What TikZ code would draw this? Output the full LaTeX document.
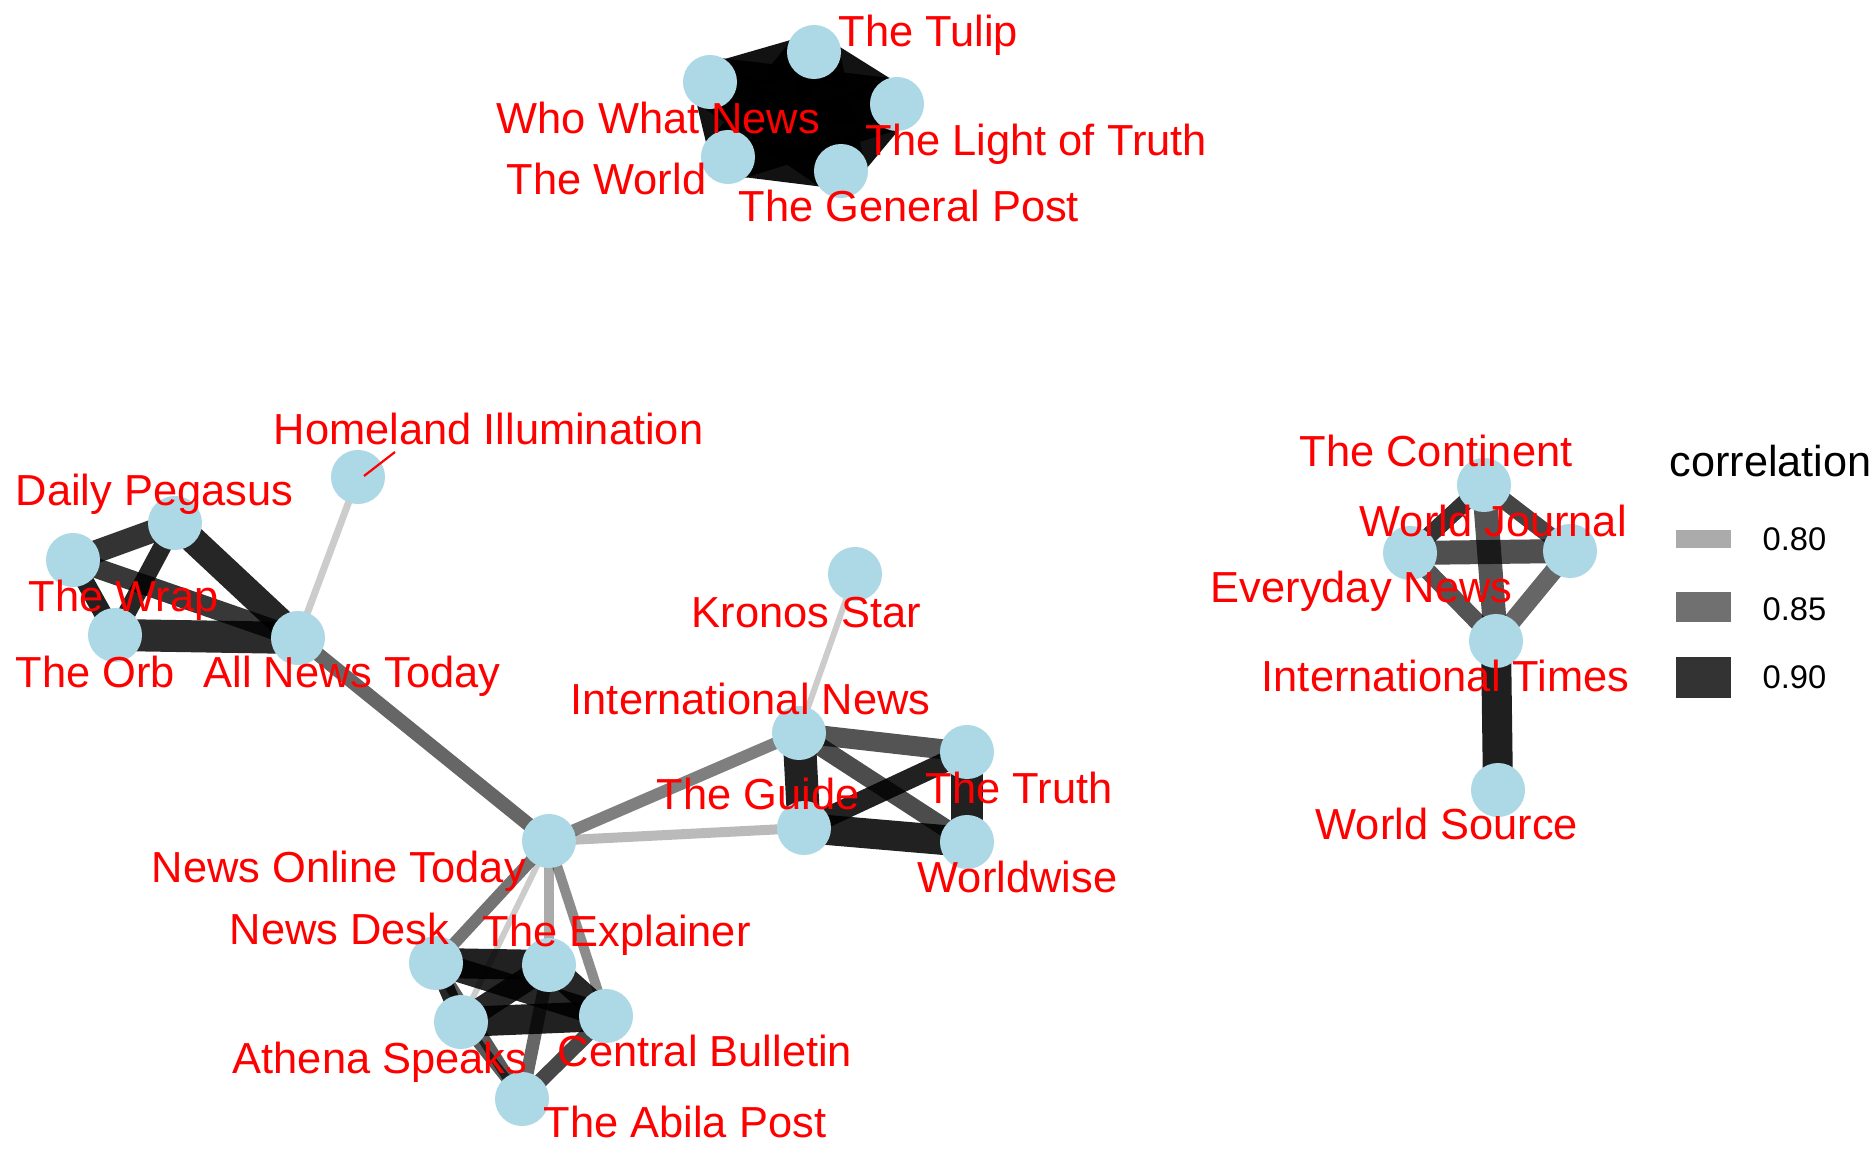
\documentclass[tikz,border=0pt]{standalone}
\usepackage{fontspec}
\setmainfont{Liberation Sans}
\definecolor{nodeblue}{HTML}{ADD8E6}
\definecolor{labred}{HTML}{FF0000}
\begin{document}
\begin{tikzpicture}[x=0.01cm,y=-0.01cm,
  nd/.style={circle,fill=nodeblue,draw=none,minimum size=0.54cm,inner sep=0pt},
  ed/.style n args={2}{draw=black,line width=#1*0.01cm,draw opacity=#2},
  lab/.style={anchor=base west,inner sep=0pt,text=labred,font=\fontsize{12.35}{14}\selectfont},
  legt/.style={anchor=base west,inner sep=0pt,text=black,font=\fontsize{12.3}{14}\selectfont},
  legn/.style={anchor=base west,inner sep=0pt,text=black,font=\fontsize{9.3}{11}\selectfont},
  key/.style={fill=black,draw=none}]
\fill[white] (0,0) rectangle (1872,1152);
\useasboundingbox (0,0) rectangle (1872,1152);
% node coordinates
\coordinate (T) at (814,52);
\coordinate (W) at (710,82);
\coordinate (L) at (897,104);
\coordinate (R) at (728,157);
\coordinate (G) at (841,171);
\coordinate (HI) at (358,477);
\coordinate (DP) at (175,523);
\coordinate (WR) at (73,560);
\coordinate (OR) at (115,635);
\coordinate (AN) at (298,638);
\coordinate (NOT) at (549,841);
\coordinate (ND) at (436,963);
\coordinate (EX) at (549,965);
\coordinate (AS) at (461,1022);
\coordinate (CB) at (606,1016);
\coordinate (AB) at (522,1099);
\coordinate (KS) at (855,574);
\coordinate (IN) at (799,733);
\coordinate (TR) at (967,752);
\coordinate (GU) at (804,828);
\coordinate (WW) at (967,842);
\coordinate (CO) at (1484,485);
\coordinate (EV) at (1410,553);
\coordinate (WJ) at (1570,551);
\coordinate (IT) at (1496,641);
\coordinate (WS) at (1498,790);
% top cluster edges
\foreach \a/\b in {T/W,T/L,L/G,G/R,R/W}
  \draw[ed={36}{0.93}] (\a) -- (\b);
\foreach \a/\b in {T/R,T/G,W/L,W/G,L/R}
  \draw[ed={50}{0.93}] (\a) -- (\b);
% left cluster
\draw[ed={23}{0.8}] (DP) -- (WR);
\draw[ed={27}{0.85}] (DP) -- (AN);
\draw[ed={18}{0.85}] (DP) -- (OR);
\draw[ed={18}{0.87}] (WR) -- (OR);
\draw[ed={20}{0.78}] (WR) -- (AN);
\draw[ed={32}{0.83}] (OR) -- (AN);
\draw[ed={7}{0.2}] (HI) -- (AN);
\draw[ed={14}{0.6}] (AN) -- (NOT);
% middle cluster
\draw[ed={12}{0.5}] (NOT) -- (IN);
\draw[ed={10}{0.27}] (NOT) -- (GU);
\draw[ed={6}{0.2}] (KS) -- (IN);
\draw[ed={20}{0.67}] (IN) -- (TR);
\draw[ed={33}{0.87}] (IN) -- (GU);
\draw[ed={18}{0.7}] (IN) -- (WW);
\draw[ed={20}{0.87}] (GU) -- (TR);
\draw[ed={30}{0.87}] (GU) -- (WW);
\draw[ed={32}{0.87}] (TR) -- (WW);
% bottom cluster
\draw[ed={12}{0.55}] (NOT) -- (ND);
\draw[ed={10}{0.33}] (NOT) -- (EX);
\draw[ed={10}{0.45}] (NOT) -- (CB);
\draw[ed={6}{0.2}] (NOT) -- (AS);
\draw[ed={30}{0.87}] (ND) -- (EX);
\draw[ed={16}{0.85}] (ND) -- (AS);
\draw[ed={24}{0.85}] (ND) -- (CB);
\draw[ed={12}{0.65}] (ND) -- (AB);
\draw[ed={24}{0.85}] (EX) -- (AS);
\draw[ed={26}{0.85}] (EX) -- (CB);
\draw[ed={13}{0.6}] (EX) -- (AB);
\draw[ed={30}{0.87}] (AS) -- (CB);
\draw[ed={10}{0.65}] (AS) -- (AB);
\draw[ed={15}{0.72}] (CB) -- (AB);
% right cluster
\draw[ed={17}{0.8}] (CO) -- (EV);
\draw[ed={17}{0.73}] (CO) -- (WJ);
\draw[ed={24}{0.67}] (CO) -- (IT);
\draw[ed={24}{0.69}] (EV) -- (WJ);
\draw[ed={17}{0.67}] (EV) -- (IT);
\draw[ed={18}{0.6}] (WJ) -- (IT);
\draw[ed={30}{0.88}] (IT) -- (WS);
% nodes
\foreach \n in {T,W,L,R,G,HI,DP,WR,OR,AN,NOT,ND,EX,AS,CB,AB,KS,IN,TR,GU,WW,CO,EV,WJ,IT,WS}
  \node[nd] (n\n) at (\n) {};
% label repel segment
\coordinate (segA) at (364,476);
\coordinate (segB) at (395,452);
\draw[labred,line width=0.022cm] (segA) -- (segB);
% labels
\node[lab] (lT) at (838,47) {The Tulip};
\node[lab] (lW) at (496,134) {Who What News};
\node[lab] (lL) at (865,156) {The Light of Truth};
\node[lab] (lR) at (506,195) {The World};
\node[lab] (lG) at (738,222) {The General Post};
\node[lab] (lHI) at (273,445) {Homeland Illumination};
\node[lab] (lDP) at (15,506) {Daily Pegasus};
\node[lab] (lWR) at (28,612) {The Wrap};
\node[lab] (lOR) at (15,687) {The Orb};
\node[lab] (lAN) at (203,687) {All News Today};
\node[lab] (lNOT) at (151,882) {News Online Today};
\node[lab] (lND) at (229,944) {News Desk};
\node[lab] (lEX) at (482,946) {The Explainer};
\node[lab] (lAS) at (232,1073) {Athena Speaks};
\node[lab] (lCB) at (557,1066) {Central Bulletin};
\node[lab] (lAB) at (543,1137) {The Abila Post};
\node[lab] (lKS) at (691,627) {Kronos Star};
\node[lab] (lIN) at (570,715) {International News};
\node[lab] (lGU) at (656,809) {The Guide};
\node[lab] (lTR) at (925,804) {The Truth};
\node[lab] (lWW) at (917,892) {Worldwise};
\node[lab] (lCO) at (1299,467) {The Continent};
\node[lab] (lWJ) at (1359,537) {World Journal};
\node[lab] (lEV) at (1210,603) {Everyday News};
\node[lab] (lIT) at (1261,692) {International Times};
\node[lab] (lWS) at (1315,840) {World Source};
% legend
\node[legt] (legtitle) at (1669,477) {correlation};
\fill[key,fill opacity=0.33] (1676,530) rectangle (1731,548);
\fill[key,fill opacity=0.56] (1676,592) rectangle (1731,622);
\fill[key,fill opacity=0.8] (1676,657) rectangle (1731,698);
\node[legn] (k1) at (1762,551) {0.80};
\node[legn] (k2) at (1762,620) {0.85};
\node[legn] (k3) at (1762,689) {0.90};
\end{tikzpicture}
\end{document}
